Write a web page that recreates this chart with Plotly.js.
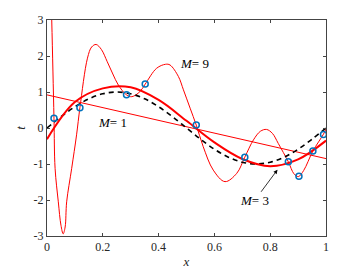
<!DOCTYPE html>
<html><head><meta charset="utf-8">
<script src="https://cdn.plot.ly/plotly-3.0.1.min.js"></script>
<style>html,body{margin:0;padding:0;background:#fff;}#chart{width:360px;height:270px;}</style>
</head><body><div id="chart"></div>
<script>
// observed data points
const dataX = [0.025, 0.118, 0.285, 0.352, 0.535, 0.709, 0.865, 0.903, 0.953, 0.991];
const dataT = [0.27, 0.565, 0.925, 1.22, 0.08, -0.81, -0.94, -1.34, -0.64, -0.18];

// dashed reference curve
const refX = [0,0.05,0.1,0.15,0.2,0.25,0.3,0.35,0.4,0.45,0.5,0.55,0.6,0.65,0.7,0.75,0.8,0.85,0.9,0.95,1];
const refT = [0,0.31,0.59,0.81,0.95,1.0,0.95,0.81,0.59,0.31,0,-0.31,-0.59,-0.81,-0.95,-1.0,-0.95,-0.81,-0.59,-0.31,0];

// M = 1 fit
const m1X = [0, 1];
const m1T = [0.92, -0.85];

// M = 3 fit
const m3X = [0,0.1,0.2,0.3,0.4,0.5,0.6,0.7,0.8,0.9,1];
const m3T = [-0.31,0.72,1.10,1.13,0.78,0.20,-0.40,-0.86,-1.06,-0.87,-0.35];

// M = 9 fit
const m9X = [0.008,0.017,0.025,0.029,0.0405,0.05,0.058,0.065,0.0705,0.0885,0.106,0.118,0.145,0.16,0.176,0.195,0.216,0.236,0.256,0.285,0.304,0.333,0.352,0.393,0.425,0.441,0.471,0.489,0.513,0.535,0.56,0.596,0.638,0.68,0.709,0.74,0.765,0.787,0.808,0.829,0.865,0.885,0.901,0.92,0.953,0.991,1.0];
const m9T = [5.6,3.0,0.27,-1.12,-2.05,-2.7,-2.94,-2.75,-2.05,-1.12,-0.19,0.565,1.94,2.25,2.32,2.18,1.84,1.50,1.19,0.92,0.87,1.01,1.22,1.66,1.77,1.75,1.43,1.06,0.55,0.08,-0.52,-1.17,-1.49,-1.26,-0.81,-0.33,-0.09,-0.04,-0.15,-0.43,-0.94,-1.27,-1.35,-1.18,-0.64,-0.17,-0.03];

const xTicks = [0,0.2,0.4,0.6,0.8,1];
const xTickText = ['0','0.2','0.4','0.6','0.8','1'];
const yTicks = [-3,-2,-1,0,1,2,3];
const yTickText = ['-3','-2','-1','0','1','2','3'];

const labelText = ['<i>M</i>= 1', '<i>M</i>= 9', '<i>M</i>= 3'];

const SERIF = "'Liberation Serif', 'Times New Roman', Times, serif";

const traces = [
  {x: m9X, y: m9T, mode: 'lines', line: {color: '#ff0000', width: 1, shape: 'spline', smoothing: 1}, hoverinfo: 'skip'},
  {x: m1X, y: m1T, mode: 'lines', line: {color: '#ff0000', width: 1}, hoverinfo: 'skip'},
  {x: refX, y: refT, mode: 'lines', line: {color: '#000000', width: 1.6, dash: '5px,4px', shape: 'spline'}, hoverinfo: 'skip'},
  {x: m3X, y: m3T, mode: 'lines', line: {color: '#ff0000', width: 2, shape: 'spline'}, hoverinfo: 'skip'},
  {x: dataX, y: dataT, mode: 'markers', marker: {symbol: 'circle-open', size: 6, color: '#0072BD', line: {width: 1.5, color: '#0072BD'}}, hoverinfo: 'skip'}
];

const axisCommon = {
  showgrid: false, zeroline: false, showline: true, linecolor: '#444', linewidth: 1,
  mirror: 'ticks', ticks: 'inside', ticklen: 3, tickcolor: '#444',
  tickfont: {family: SERIF, size: 12, color: '#262626'}
};

const layout = {
  width: 360, height: 270,
  margin: {l: 47, r: 34, t: 20, b: 34},
  paper_bgcolor: '#fff', plot_bgcolor: '#fff',
  showlegend: false,
  font: {family: SERIF},
  xaxis: Object.assign({}, axisCommon, {range: [0, 1], tickvals: xTicks, ticktext: xTickText,
    title: {text: '<i>x</i>', font: {family: SERIF, size: 13, color: '#262626'}, standoff: 3}}),
  yaxis: Object.assign({}, axisCommon, {range: [-3, 3], tickvals: yTicks, ticktext: yTickText,
    title: {text: '<i>t</i>', font: {family: SERIF, size: 13, color: '#262626'}, standoff: 5}}),
  annotations: [
    {x: 0.233, y: 0.14, xref: 'x', yref: 'y', text: labelText[0], showarrow: false,
     font: {family: SERIF, size: 13, color: '#000'}},
    {x: 0.53, y: 1.8, xref: 'x', yref: 'y', text: labelText[1], showarrow: false,
     font: {family: SERIF, size: 13, color: '#000'}},
    {x: 0.826, y: -1.16, xref: 'x', yref: 'y', text: labelText[2], showarrow: true,
     ax: -23, ay: 31, arrowhead: 2, arrowsize: 1, arrowwidth: 0.8, arrowcolor: '#000',
     font: {family: SERIF, size: 13, color: '#000'}}
  ]
};

Plotly.newPlot('chart', traces, layout, {displayModeBar: false, staticPlot: true});
</script></body></html>
